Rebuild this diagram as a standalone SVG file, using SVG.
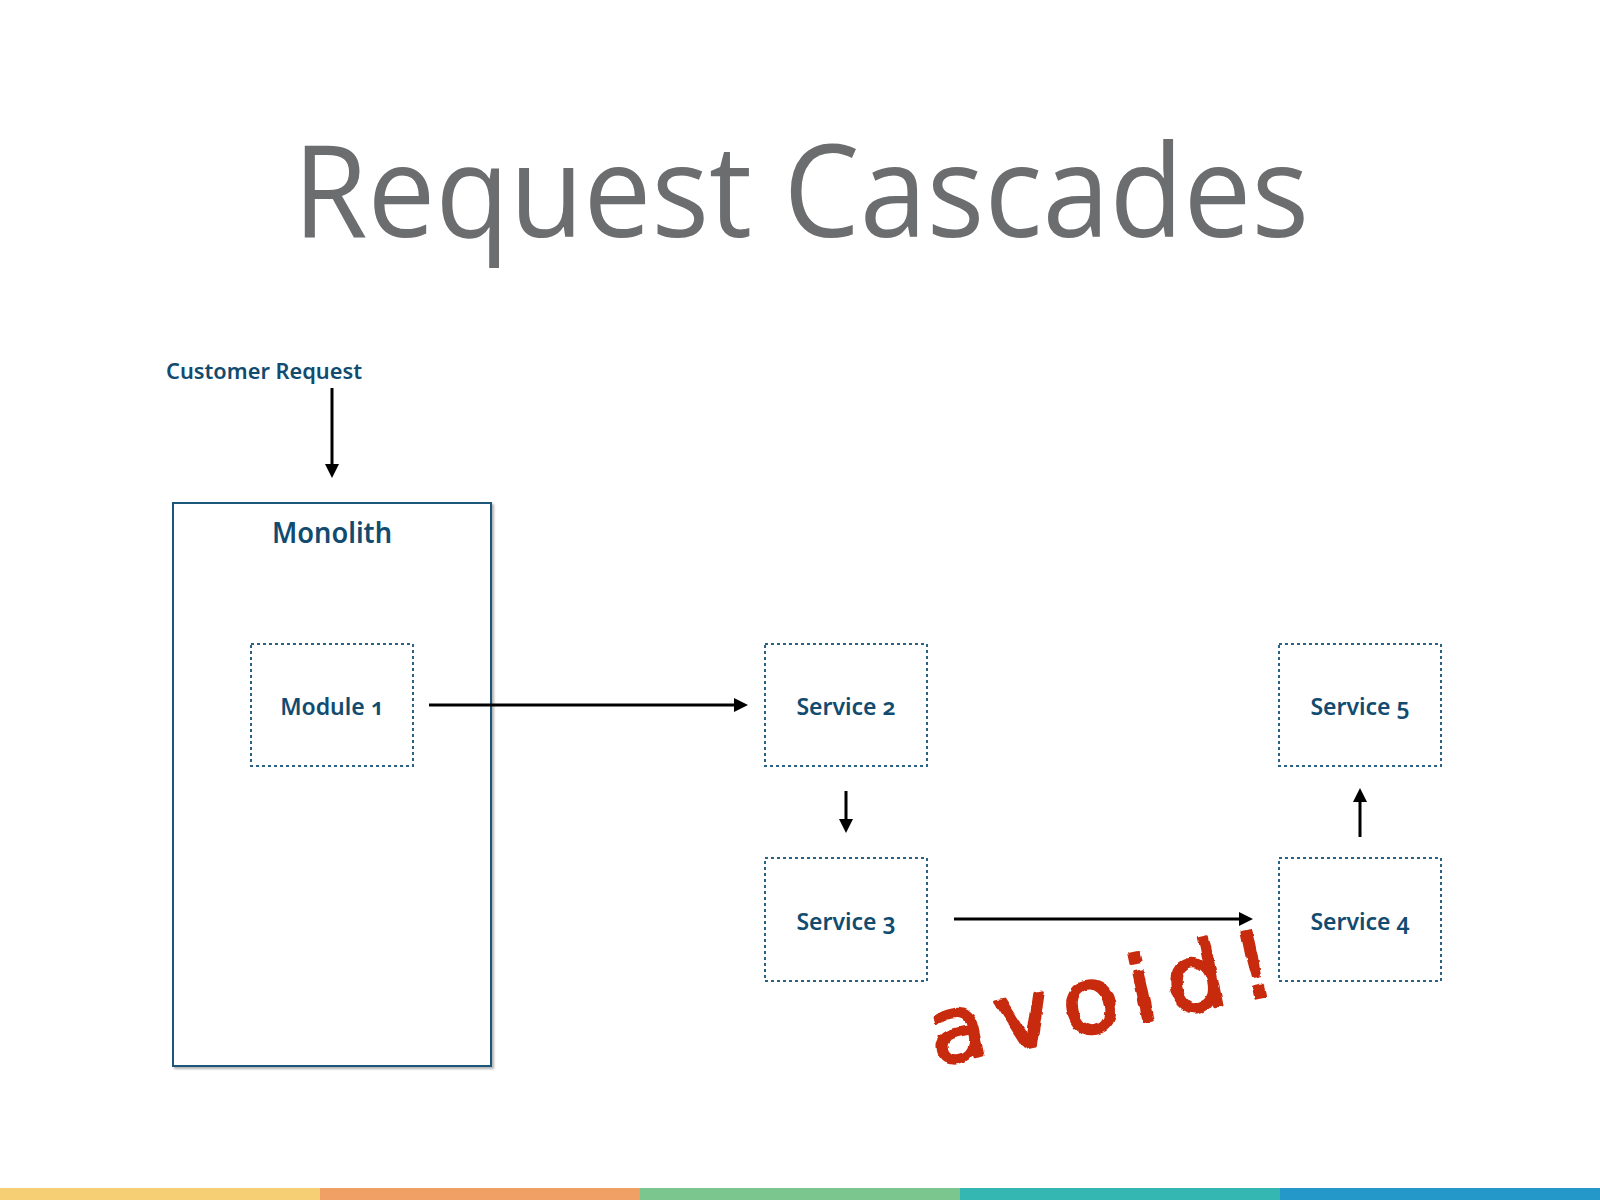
<svg xmlns="http://www.w3.org/2000/svg" width="1600" height="1200" viewBox="0 0 1600 1200">
<style>
.lbl{font-family:"Noto Sans","Open Sans","Liberation Sans",sans-serif;font-weight:600;fill:#124b70;font-variant-numeric:oldstyle-nums;text-anchor:middle}
.box{fill:#fff;stroke:#2c6283;stroke-width:2;stroke-dasharray:3 3}
.conn{stroke:#000;stroke-width:3;fill:none;marker-end:url(#ah)}
</style>
<defs>
<marker id="ah" markerUnits="userSpaceOnUse" markerWidth="14" markerHeight="14" refX="4" refY="7" orient="auto">
<path d="M0,0 L14,7 L0,14 z" fill="#000"/>
</marker>
<filter id="shadow" x="-5%" y="-5%" width="110%" height="110%">
<feDropShadow dx="2" dy="2" stdDeviation="1.2" flood-color="#000" flood-opacity="0.3"/>
</filter>
<filter id="rough" x="-10%" y="-10%" width="120%" height="120%">
<feTurbulence type="fractalNoise" baseFrequency="0.09" numOctaves="2" seed="3" result="n"/>
<feDisplacementMap in="SourceGraphic" in2="n" scale="5" xChannelSelector="R" yChannelSelector="G"/>
</filter>
</defs>
<rect width="1600" height="1200" fill="#fff"/>
<text x="801" y="237" font-family="'Open Sans','Noto Sans',sans-serif" font-weight="400" font-size="128" fill="#6c6d6f" text-anchor="middle" textLength="1016" lengthAdjust="spacingAndGlyphs">Request Cascades</text>

<g id="avoid" filter="url(#rough)">
<text x="0" y="0" transform="translate(936,1066) rotate(-12)" font-family="'DejaVu Sans','Liberation Sans',sans-serif" font-weight="normal" font-size="92" fill="#c82a0d" stroke="#c82a0d" stroke-width="3" stroke-linejoin="round" textLength="350" lengthAdjust="spacing">avoid!</text>
</g>

<g id="customer-request">
<text x="264" y="379" class="lbl" font-size="22" textLength="196" lengthAdjust="spacingAndGlyphs">Customer Request</text>
</g>
<g id="monolith">
<rect x="173" y="503" width="318" height="563" fill="#fff" stroke="#1f5679" stroke-width="2" filter="url(#shadow)"/>
<text x="332" y="543" class="lbl" font-size="28" textLength="120" lengthAdjust="spacingAndGlyphs">Monolith</text>
</g>
<g id="module1">
<rect x="251" y="644" width="162" height="122" class="box"/>
<text x="332" y="715" class="lbl" font-size="23">Module 1</text>
</g>
<g id="service2">
<rect x="765" y="644" width="162" height="122" class="box"/>
<text x="846" y="715" class="lbl" font-size="23">Service 2</text>
</g>
<g id="service3">
<rect x="765" y="858" width="162" height="123" class="box"/>
<text x="846" y="930" class="lbl" font-size="23">Service 3</text>
</g>
<g id="service4">
<rect x="1279" y="858" width="162" height="123" class="box" fill-opacity="0"/>
<text x="1360" y="930" class="lbl" font-size="23">Service 4</text>
</g>
<g id="service5">
<rect x="1279" y="644" width="162" height="122" class="box"/>
<text x="1360" y="715" class="lbl" font-size="23">Service 5</text>
</g>

<g id="connectors">
<line x1="332" y1="388" x2="332" y2="468" class="conn"/>
<line x1="429" y1="705" x2="738" y2="705" class="conn"/>
<line x1="846" y1="791" x2="846" y2="823" class="conn"/>
<line x1="954" y1="919" x2="1243" y2="919" class="conn"/>
<line x1="1360" y1="837" x2="1360" y2="798" class="conn"/>
</g>

<g id="bottom-bar">
<rect x="0" y="1188" width="320" height="12" fill="#f6cf75"/>
<rect x="320" y="1188" width="320" height="12" fill="#f0a065"/>
<rect x="640" y="1188" width="320" height="12" fill="#7bc68f"/>
<rect x="960" y="1188" width="320" height="12" fill="#34b7b2"/>
<rect x="1280" y="1188" width="320" height="12" fill="#2398c9"/>
</g>
</svg>
